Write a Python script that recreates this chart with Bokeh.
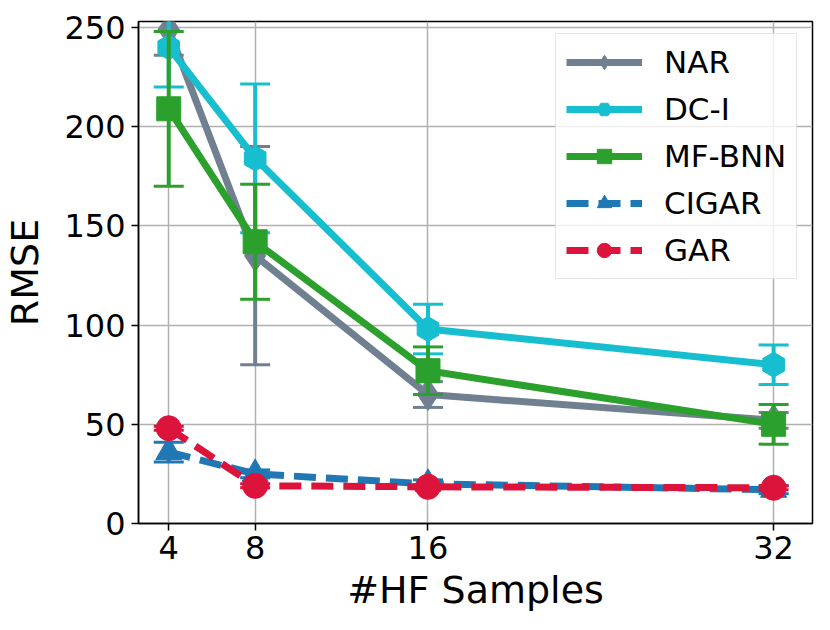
import numpy as np
from bokeh.plotting import figure
from bokeh.models import FixedTicker, Legend, LegendItem, Range1d
from bokeh.embed import file_html
from bokeh.resources import INLINE

x_vals = [4, 8, 16, 32]
series_names = ["NAR", "DC-I", "MF-BNN", "CIGAR", "GAR"]
nar_mean = [249, 135, 65, 52]
nar_err = [13, 55, 6.5, 4]
dci_mean = [240, 184, 98, 80]
dci_err = [20, 37.5, 12.5, 10]
mfbnn_mean = [209, 142, 77, 50]
mfbnn_err = [39, 29, 12, 10]
cigar_mean = [36, 25, 20, 17]
cigar_err = [5, 2, 2, 2]
gar_mean = [48, 19, 18.5, 18]
gar_err = [1, 1, 1, 1]
y_ticks = [0, 50, 100, 150, 200, 250]

styles = [
    ("#708090", "diamond", 32, 0, "solid"),
    ("#17becf", "hex", 25, np.pi / 6, "solid"),
    ("#2ca02c", "square", 24, 0, "solid"),
    ("#1f77b4", "triangle", 26, 0, "22 10"),
    ("#dc143c", "circle", 25, 0, "22 10"),
]
means = [nar_mean, dci_mean, mfbnn_mean, cigar_mean, gar_mean]
errs = [nar_err, dci_err, mfbnn_err, cigar_err, gar_err]

FONT = "DejaVu Sans"

p = figure(width=814, height=614, output_backend="svg", toolbar_location=None,
           x_range=Range1d(2.6, 33.8), y_range=Range1d(0, 253),
           min_border_left=130, min_border_right=2, min_border_top=21, min_border_bottom=88)

p.outline_line_color = "black"
p.outline_line_width = 1.5
p.background_fill_color = "white"
p.border_fill_color = "white"

for ax in (p.xaxis[0], p.yaxis[0]):
    ax.axis_line_width = 1.5
    ax.axis_line_color = "black"
    ax.major_tick_out = 7
    ax.major_tick_in = 0
    ax.major_tick_line_width = 1.5
    ax.minor_tick_line_color = None
    ax.major_label_text_font = FONT
    ax.major_label_text_font_size = "32px"
    ax.major_label_text_color = "black"
    ax.axis_label_text_font = FONT
    ax.axis_label_text_font_size = "38px"
    ax.axis_label_text_font_style = "normal"
    ax.axis_label_text_color = "black"

p.xaxis.ticker = FixedTicker(ticks=x_vals)
p.yaxis.ticker = FixedTicker(ticks=y_ticks)
p.xaxis.axis_label = "#HF Samples"
p.yaxis.axis_label = "RMSE"
p.xaxis.major_label_standoff = 5
p.yaxis.major_label_standoff = 6
p.xaxis.axis_label_standoff = 6
p.yaxis.axis_label_standoff = 14

p.grid.grid_line_color = "#b0b0b0"
p.grid.grid_line_width = 1.5

items = []
for name, (color, marker, size, angle, dash), m, e in zip(series_names, styles, means, errs):
    lo = [a - b for a, b in zip(m, e)]
    hi = [a + b for a, b in zip(m, e)]
    p.segment(x0=x_vals, y0=lo, x1=x_vals, y1=hi, line_color=color, line_width=4)
    p.scatter(x=x_vals, y=lo, marker="dash", size=30, line_color=color, line_width=3)
    p.scatter(x=x_vals, y=hi, marker="dash", size=30, line_color=color, line_width=3)
    ln = p.line(x=x_vals, y=m, line_color=color, line_width=7, line_dash=dash)
    sc = p.scatter(x=x_vals, y=m, marker=marker, size=size, angle=angle,
                   fill_color=color, line_color=color, line_width=1)
    items.append(LegendItem(label=name, renderers=[ln, sc]))

legend = Legend(items=items, location=(417, 244))
legend.label_text_font = FONT
legend.label_text_font_size = "31px"
legend.label_text_color = "black"
legend.glyph_width = 76
legend.glyph_height = 36
legend.label_height = 36
legend.label_standoff = 22
legend.spacing = 11
legend.padding = 10
legend.margin = 0
legend.border_line_color = "#cccccc"
legend.border_line_width = 1.5
legend.background_fill_alpha = 0.8
p.add_layout(legend, "center")

open("out.html", "w").write(file_html(p, INLINE))
